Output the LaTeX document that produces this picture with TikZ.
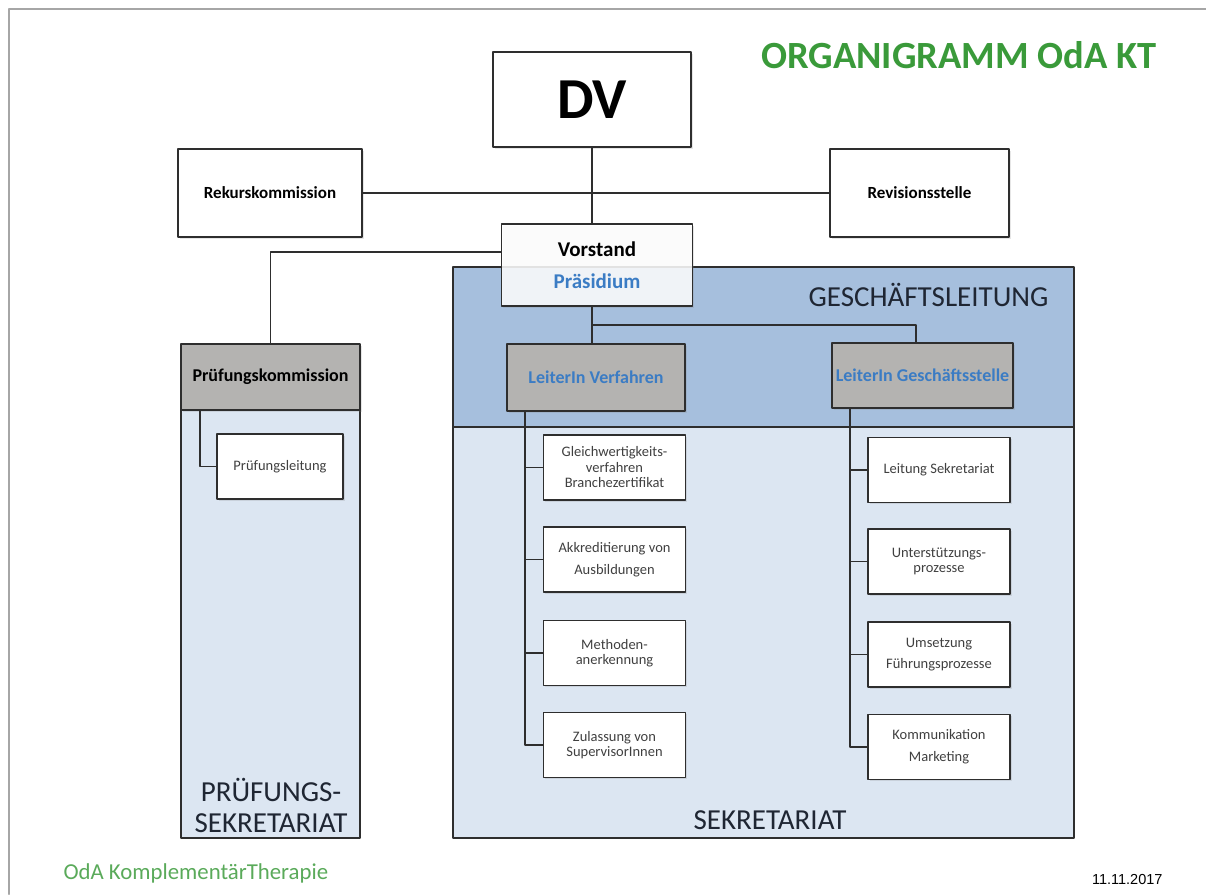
\documentclass[tikz,border=0pt]{standalone}
\usepackage{fontspec}
\setmainfont{Carlito}
\newfontfamily\datefont{Liberation Sans}
\usetikzlibrary{shadows}
\definecolor{glblue}{HTML}{A6BFDD}
\definecolor{skblue}{HTML}{DCE6F2}
\definecolor{boxgray}{HTML}{B4B3B1}
\definecolor{boxline}{HTML}{2E2E2E}
\definecolor{headblue}{HTML}{3B7CC4}
\definecolor{titlegreen}{HTML}{3A9A3A}
\definecolor{footgreen}{HTML}{5AAA5A}
\definecolor{tagtext}{HTML}{1F2633}
\newcommand{\fs}[2]{\fontsize{#1}{#2}\selectfont}
\begin{document}
\begin{tikzpicture}[x=1pt, y=-1pt, line join=round, line cap=round,
    box/.style={draw=boxline, line width=1.3pt, fill=white, inner sep=2pt, align=center,
        drop shadow={shadow xshift=1.5pt, shadow yshift=-1.5pt, opacity=0.2}},
    headbox/.style={box, fill=boxgray, font=\bfseries\fs{18}{20}},
    leadbox/.style={headbox, text=headblue},
    unitbox/.style={box, minimum width=142, minimum height=65, text=black!75, font=\fs{14.5}{15.5}},
    region/.style={draw=boxline, line width=1.3pt},
    link/.style={draw=boxline, line width=1.3pt},
    tag/.style={text=tagtext, font=\fs{29}{31}, align=center}]
    \useasboundingbox (0,0) rectangle (1206,894);
    \draw[gray!70, line width=2.5pt] (9,894) -- (9,9) -- (1206,9);
    % Bereiche
    \draw[region, fill=glblue] (453,267) rectangle (1074,427);
    \draw[region, fill=skblue] (453,427) rectangle (1074,838);
    \draw[region, fill=skblue] (181,410) rectangle (360,838);
    \node[tag, anchor=east] (gl) at (1052,295) {GESCHÄFTSLEITUNG};
    \node[tag] (sek) at (770,820) {SEKRETARIAT};
    \node[tag] (psek) at (271,805) {PRÜFUNGS-\\SEKRETARIAT};
    % Kopf
    \node[anchor=base east, text=titlegreen, font=\bfseries\fs{38.5}{40}] (title) at (1160,68) {ORGANIGRAMM OdA KT};
    \node[box, minimum width=198, minimum height=95, font=\bfseries\fs{58}{58}] (dv) at (592,99.5) {DV};
    \node[box, minimum width=184, minimum height=88, font=\bfseries\fs{17}{20}] (rekurs) at (270,193) {Rekurskommission};
    \node[box, minimum width=179, minimum height=88, font=\bfseries\fs{17}{20}] (revision) at (919.5,193) {Revisionsstelle};
    \node[box, fill opacity=0.85, text opacity=1, minimum width=191, minimum height=82,
        font=\bfseries\fs{21}{32}] (vorstand) at (597,265) {Vorstand\\{\color{headblue}Präsidium}};
    \node[headbox, text=black, minimum width=179, minimum height=66] (pk) at (270.5,377) {Prüfungskommission};
    \node[leadbox, minimum width=178, minimum height=67] (lv) at (596,377.5) {LeiterIn Verfahren};
    \node[leadbox, minimum width=181, minimum height=65] (lg) at (922.5,375.5) {LeiterIn Geschäftsstelle};
    \node[unitbox, minimum width=126] (pl) at (280,466.5) {Prüfungsleitung};
    % Verfahren
    \node[unitbox] (g1) at (614.5,467.5) {Gleichwertigkeits-\\verfahren\\Branchezertifikat};
    \node[unitbox, font=\fs{14.5}{22}] (g2) at (614.5,559.5) {Akkreditierung von\\Ausbildungen};
    \node[unitbox] (g3) at (614.5,653) {Methoden-\\anerkennung};
    \node[unitbox] (g4) at (614.5,745) {Zulassung von\\SupervisorInnen};
    % Geschaeftsstelle
    \node[unitbox] (r1) at (939,470) {Leitung Sekretariat};
    \node[unitbox] (r2) at (939,561.5) {Unterstützungs-\\prozesse};
    \node[unitbox, font=\fs{14.5}{21}] (r3) at (939,654.5) {Umsetzung\\Führungsprozesse};
    \node[unitbox, font=\fs{14.5}{22}] (r4) at (939,747) {Kommunikation\\Marketing};
    % Fuss
    \node[anchor=west, text=footgreen, font=\fs{22.8}{23}] (foot) at (60,873) {OdA KomplementärTherapie};
    \node[anchor=east, font=\datefont\fs{14.5}{15}] (date) at (1166,879) {11.11.2017};
    % Linien
    \coordinate (split) at (592,325);
    \coordinate (gsdrop) at (916,325);
    \draw[link] (rekurs.east) -- (revision.west);
    \draw[link] (dv.south) -- (dv.south |- vorstand.north);
    \draw[link] (vorstand.west |- 0,252) -| (pk.north);
    \draw[link] (split |- vorstand.south) -- (split |- lv.north);
    \draw[link] (split) -- (gsdrop) -- (gsdrop |- lg.north);
    \draw[link] (pk.south -| 200,0) |- (pl.west);
    \draw[link] (lv.south -| 525,0) |- (g4.west);
    \foreach \n in {g1,g2,g3} \draw[link] (525,0 |- \n.west) -- (\n.west);
    \draw[link] (lg.south -| 850,0) |- (r4.west);
    \foreach \n in {r1,r2,r3} \draw[link] (850,0 |- \n.west) -- (\n.west);
\end{tikzpicture}
\end{document}
